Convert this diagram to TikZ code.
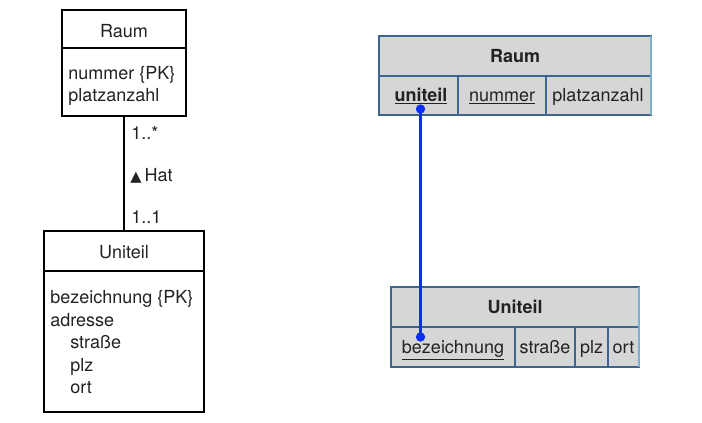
\documentclass[tikz,border=0pt]{standalone}
\usepackage{fontspec}
\setmainfont{TeX Gyre Heros}
\newfontfamily\symfont{DejaVu Sans}
\usetikzlibrary{positioning}
\definecolor{txt}{HTML}{222222}
\definecolor{cellfill}{HTML}{D6D6D6}
\definecolor{celldraw}{HTML}{3D6590}
\definecolor{cellright}{HTML}{7AB0D0}
\definecolor{linkblue}{HTML}{0A2EF5}
\tikzset{
  umlbox/.style={draw=black, line width=1.4pt, anchor=north west, inner sep=0pt, outer sep=0pt},
  txtl/.style={anchor=base west, inner sep=0pt, text=txt, font=\fontsize{13.5}{16}\selectfont},
  txtc/.style={anchor=base, inner sep=0pt, text=txt, font=\fontsize{13.5}{16}\selectfont},
  cell/.style={draw=celldraw, fill=cellfill, line width=0.8pt, anchor=north west, inner sep=0pt, outer sep=0pt},
  rightedge/.style={draw=cellright, line width=1.2pt},
  assoc/.style={draw=black, line width=1.4pt},
  fk/.style={draw=linkblue, line width=1.7pt},
  fkdot/.style={fill=linkblue, circle, inner sep=0pt, minimum size=7pt}
}
\begin{document}
\begin{tikzpicture}[x=0.75pt, y=-0.75pt]
\useasboundingbox (0,0) rectangle (702,422);
% ---------- left UML ----------
\node[umlbox, minimum width=124*0.75pt, minimum height=38*0.75pt] (raumh) at (62,10) {};
\node[umlbox, minimum width=124*0.75pt, minimum height=68*0.75pt] (raumb) at (62,48) {};
\node[txtc] (raumt) at (124,37) {Raum};
\node[txtl] (raum1) at (68,79) {nummer \{PK\}};
\node[txtl] (raum2) at (68,101) {platzanzahl};

\node[umlbox, minimum width=160*0.75pt, minimum height=40*0.75pt] (unih) at (44,231) {};
\node[umlbox, minimum width=160*0.75pt, minimum height=141*0.75pt] (unib) at (44,271) {};
\node[txtc] (unit) at (124,258) {Uniteil};
\node[txtl] (uni1) at (50,303) {bezeichnung \{PK\}};
\node[txtl] (uni2) at (50,326) {adresse};
\node[txtl] (uni3) at (70,348) {straße};
\node[txtl] (uni4) at (70,371) {plz};
\node[txtl] (uni5) at (70,393) {ort};

\draw[assoc] (raumb.south) -- (unih.north);
\node[txtl] (m1) at (131,139) {1..*};
\node[txtl] (hat) at (130,181) {{\symfont\fontsize{11}{13}\selectfont ▲}\,Hat};
\node[txtl] (m2) at (131,223) {1..1};

% ---------- right relational ----------
\node[cell, minimum width=272*0.75pt, minimum height=40*0.75pt] (rh) at (379,36) {};
\node[cell, minimum width=79*0.75pt, minimum height=39*0.75pt] (rc1) at (379,76) {};
\node[cell, minimum width=88*0.75pt, minimum height=39*0.75pt] (rc2) at (458,76) {};
\node[cell, minimum width=105*0.75pt, minimum height=39*0.75pt] (rc3) at (546,76) {};
\draw[rightedge] (rh.north east) -- (rc3.south east);
\node[txtc, font=\fontsize{13.5}{16}\selectfont\bfseries] (rht) at (515,62) {Raum};
\node[txtc, font=\fontsize{13.5}{16}\selectfont\bfseries] (rt1) at (421,101) {\underline{uniteil}};
\node[txtc] (rt2) at (502,101) {\underline{nummer}};
\node[txtc] (rt3) at (598,101) {platzanzahl};

\node[cell, minimum width=248*0.75pt, minimum height=40*0.75pt] (uh) at (391,287) {};
\node[cell, minimum width=124*0.75pt, minimum height=40*0.75pt] (uc1) at (391,327) {};
\node[cell, minimum width=60*0.75pt, minimum height=40*0.75pt] (uc2) at (515,327) {};
\node[cell, minimum width=33*0.75pt, minimum height=40*0.75pt] (uc3) at (575,327) {};
\node[cell, minimum width=31*0.75pt, minimum height=40*0.75pt] (uc4) at (608,327) {};
\draw[rightedge] (uh.north east) -- (uc4.south east);
\node[txtc, font=\fontsize{13.5}{16}\selectfont\bfseries] (uht) at (515,313) {Uniteil};
\node[txtc] (ut1) at (453,353) {\underline{bezeichnung}};
\node[txtc] (ut2) at (545,353) {straße};
\node[txtc] (ut3) at (591.5,353) {plz};
\node[txtc] (ut4) at (623.5,353) {ort};

\node[fkdot] (d1) at (420.5,109) {};
\node[fkdot] (d2) at (420.5,337) {};
\draw[fk] (d1.center) -- (d2.center);
\end{tikzpicture}
\end{document}
